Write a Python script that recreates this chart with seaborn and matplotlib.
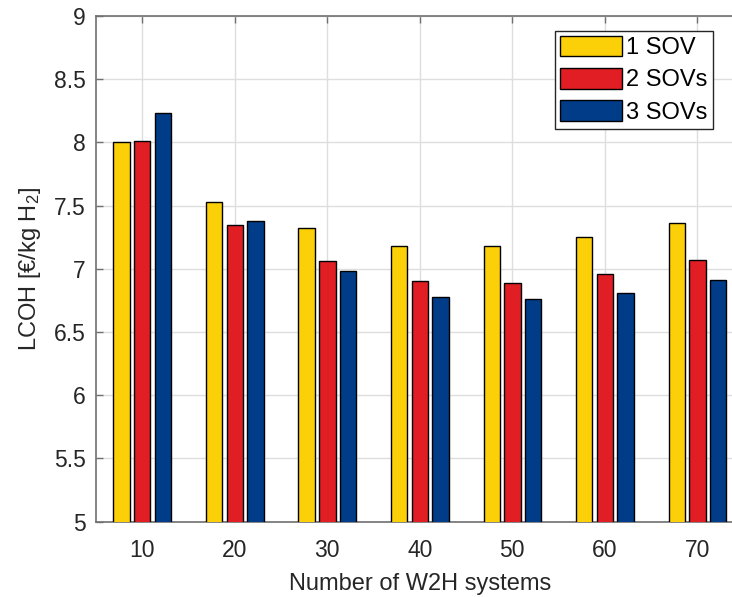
import matplotlib
matplotlib.use("Agg")
import matplotlib.pyplot as plt
import seaborn as sns
import pandas as pd

# LCOH per fleet size and number of SOVs
systems = ["10", "20", "30", "40", "50", "60", "70"]
sov_configs = ["1 SOV", "2 SOVs", "3 SOVs"]
lcoh_1sov = [8.00, 7.53, 7.32, 7.18, 7.18, 7.25, 7.36]
lcoh_2sov = [8.01, 7.35, 7.06, 6.90, 6.89, 6.96, 7.07]
lcoh_3sov = [8.23, 7.38, 6.98, 6.78, 6.76, 6.81, 6.91]
colors = ["#FCD009", "#E01E24", "#003C88"]
y_ticks = [5, 5.5, 6, 6.5, 7, 7.5, 8, 8.5, 9]

df = pd.DataFrame({
    "systems": systems * 3,
    "config": [c for c in sov_configs for _ in systems],
    "lcoh": lcoh_1sov + lcoh_2sov + lcoh_3sov,
})

sns.set_style("white")
plt.rcParams["font.family"] = ["Liberation Sans", "DejaVu Sans"]
plt.rcParams["mathtext.fontset"] = "custom"
plt.rcParams["mathtext.rm"] = "Liberation Sans"
plt.rcParams["mathtext.it"] = "Liberation Sans:italic"

text_color = "#262626"
W, H = 732, 597
fig = plt.figure(figsize=(W / 100, H / 100), dpi=100)
ax = fig.add_axes([96 / W, (H - 521.7) / H, (743.6 - 96) / W, (521.7 - 16) / H])

sns.barplot(data=df, x="systems", y="lcoh", hue="config",
            order=systems, hue_order=sov_configs, palette=colors,
            width=0.667, gap=0.2, edgecolor="black", linewidth=1.0,
            saturation=1, ax=ax, zorder=3)

ax.set_xlim(-0.5, len(systems) - 0.5)
ax.set_ylim(5, 9)
ax.set_yticks(y_ticks)
ax.set_yticklabels([f"{t:g}" for t in y_ticks])

ax.grid(True, color="#dedede", linewidth=1.0, zorder=0)
ax.set_axisbelow(True)

for side, spine in ax.spines.items():
    spine.set_visible(True)
    spine.set_color("#707070")
    spine.set_linewidth(1.2)

ax.tick_params(axis="both", which="both", direction="in", length=5, width=1,
               color="#707070", labelsize=16.5, labelcolor=text_color,
               top=True, right=True, bottom=True, left=True)
ax.tick_params(axis="x", pad=12.5)
ax.tick_params(axis="y", pad=7.5)

ax.set_xlabel("Number of W2H systems", fontsize=17, color=text_color, labelpad=8)
ax.set_ylabel("LCOH [€/kg H$_{2}$]", fontsize=17, color=text_color, labelpad=8)

leg = ax.legend(loc="upper right", bbox_to_anchor=(713 / W, 1 - 30.7 / H),
                bbox_transform=fig.transFigure, borderaxespad=0,
                fontsize=17, frameon=True, fancybox=False, framealpha=1,
                edgecolor=text_color, handlelength=2.6, handleheight=0.95,
                handletextpad=0.2, labelspacing=0.38, borderpad=0.22,
                title=None)
leg.get_frame().set_linewidth(1.0)
for t in leg.get_texts():
    t.set_color("black")

fig.savefig("out.png", dpi=100)
